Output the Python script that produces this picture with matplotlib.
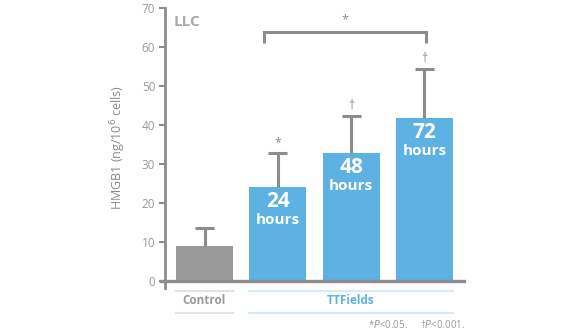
import matplotlib
matplotlib.use("Agg")
import matplotlib.pyplot as plt

plt.rcParams['font.family'] = ['Open Sans', 'DejaVu Sans']

categories = ["Control", "24 hours", "48 hours", "72 hours"]
bar_labels = ["", "24\nhours", "48\nhours", "72\nhours"]
values = [9.0, 24.0, 32.8, 41.8]
errors = [4.6, 8.8, 9.5, 12.6]
sig_marks = ["", "*", "†", "†"]
yticks = [0, 10, 20, 30, 40, 50, 60, 70]

BLUE = "#5db2e3"
GRAY_BAR = "#9a9a9a"
AX_GRAY = "#8c8c8c"
TXT_GRAY = "#9a9a9a"

W, H = 571, 333
fig = plt.figure(figsize=(W / 100, H / 100), dpi=100)
ax = fig.add_axes([165 / W, (H - 288) / H, (464 - 165) / W, (288 - 8) / H])

x = list(range(len(values)))
colors = [GRAY_BAR] + [BLUE] * (len(values) - 1)
ax.bar(x, values, width=0.78, color=colors, zorder=2)
tops = [v + e for v, e in zip(values, errors)]
ax.vlines(x, values, tops, color=AX_GRAY, lw=2.2, zorder=3)
ax.hlines(tops, [xi - 0.13 for xi in x], [xi + 0.13 for xi in x], color=AX_GRAY, lw=2.2, zorder=3)

for xi, v, t, lab, s in zip(x, values, tops, bar_labels, sig_marks):
    if lab:
        num, word = lab.split("\n")
        ax.text(xi, v - 1.0, num, ha='center', va='top', color='white',
                fontsize=15, fontweight='bold')
        ax.text(xi, v - 6.6, word, ha='center', va='top', color='white',
                fontsize=11, fontweight='bold')
    if s:
        ax.text(xi, t + 1.0, s, ha='center', va='bottom', color=AX_GRAY,
                fontsize=9)

# significance bracket between 24h and 72h
bx0, bx1, by = 0.81, 3.02, 63.8
ax.plot([bx0, bx0, bx1, bx1], [61.0, by, by, 61.0], color=AX_GRAY, lw=2.2,
        solid_capstyle='butt', solid_joinstyle='miter', clip_on=False, zorder=3)
ax.text((bx0 + bx1) / 2, by + 1.5, "*", ha='center', va='bottom', color=AX_GRAY, fontsize=9)

ax.set_xlim(-0.539, 3.539)
ax.set_ylim(-1.8, 70)
ax.set_yticks(yticks)
ax.set_yticklabels([str(t) for t in yticks])
ax.tick_params(axis='y', color=AX_GRAY, labelsize=8.5, length=4, width=1.5,
               labelcolor=TXT_GRAY, pad=3)
ax.set_xticks([])
for sp in ['top', 'right', 'bottom']:
    ax.spines[sp].set_visible(False)
ax.spines['left'].set_color(AX_GRAY)
ax.spines['left'].set_linewidth(2)
ax.plot([-0.59, 3.539], [0, 0], color=AX_GRAY, lw=2.4, clip_on=False, zorder=4)

ax.set_ylabel("HMGB1 (ng/10$^{6}$ cells)", color="#8a8a8a", fontsize=9, labelpad=10)

ax.text(-0.42, 66.5, "LLC", color="#aaaaaa", fontsize=11, fontweight='bold', va='center')

def fig_y(py):
    return (H - py) / H
ctrl_l, ctrl_r = 176 / W, 233 / W
tt_l, tt_r = 249 / W, 453 / W
for (l, r, c) in [(ctrl_l, ctrl_r, "#e2e2e2"), (tt_l, tt_r, "#d6ebf8")]:
    fig.add_artist(plt.Line2D([l, r], [fig_y(291), fig_y(291)], color=c, lw=1.5))
    fig.add_artist(plt.Line2D([l, r], [fig_y(313), fig_y(313)], color=c, lw=1.5))
fig.text((ctrl_l + ctrl_r) / 2, fig_y(301), "Control", ha='center', va='center',
         color=TXT_GRAY, fontsize=8.5, fontweight='bold')
fig.text((tt_l + tt_r) / 2, fig_y(301), "TTFields", ha='center', va='center',
         color=BLUE, fontsize=8.5, fontweight='bold')

fig.text(368 / W, fig_y(325), "*$P$<0.05.", ha='left', va='center', color=TXT_GRAY, fontsize=7)
fig.text(420 / W, fig_y(325), "†$P$<0.001.", ha='left', va='center', color=TXT_GRAY, fontsize=7)

fig.savefig("out.png", dpi=100)
